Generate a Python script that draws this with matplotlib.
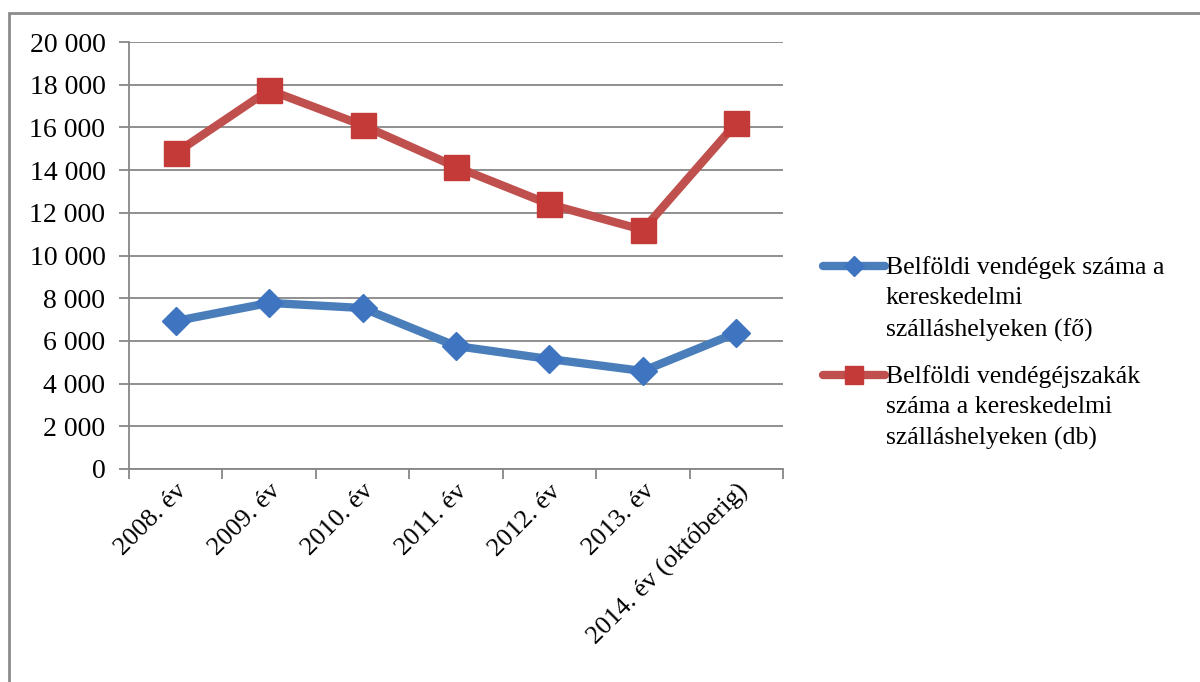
import matplotlib.pyplot as plt
from matplotlib.patches import Rectangle
from matplotlib.ticker import FuncFormatter, MultipleLocator
from matplotlib.legend_handler import HandlerLine2D

categories = ["2008. év", "2009. év", "2010. év", "2011. év", "2012. év",
              "2013. év", "2014. év (októberig)"]
vendegek = [6930, 7780, 7540, 5760, 5150, 4590, 6370]
ejszakak = [14800, 17750, 16100, 14150, 12400, 11200, 16200]

label_vendegek = "Belföldi vendégek száma a\nkereskedelmi\nszálláshelyeken (fő)"
label_ejszakak = "Belföldi vendégéjszakák\nszáma a kereskedelmi\nszálláshelyeken (db)"

plt.rcParams['font.family'] = ['Liberation Serif', 'DejaVu Serif']

LEG_FS = 18.5
LEG_LS = 1.5


class TopLineHandler(HandlerLine2D):
    # put the handle next to the first text line instead of the middle one
    def create_artists(self, legend, orig_handle, xdescent, ydescent,
                       width, height, fontsize, trans):
        artists = super().create_artists(legend, orig_handle, xdescent,
                                         ydescent, width, height, fontsize,
                                         trans)
        shift = fontsize * LEG_LS * 0.83
        for a in artists:
            a.set_ydata([y + shift for y in a.get_ydata()])
        return artists


fig = plt.figure(figsize=(12, 6.82), dpi=100)
W, H = 1200, 682

# outer frame (only top and left edges visible)
fig.patches.append(Rectangle((9 / W, -0.1), 1.2, 1.1 - 13 / H,
                             transform=fig.transFigure, fill=False,
                             edgecolor='#8c8c8c', linewidth=2))

ax = fig.add_axes([129 / W, 1 - 469 / H, (783 - 129) / W, (469 - 42) / H])

x = range(len(categories))
l1, = ax.plot(x, vendegek, color='#4A7EBB', linewidth=6, marker='D',
              markersize=14, markerfacecolor='#3F74C0',
              markeredgecolor='#3F74C0', label=label_vendegek,
              solid_capstyle='round')
l2, = ax.plot(x, ejszakak, color='#C0504D', linewidth=6, marker='s',
              markersize=18, markerfacecolor='#C33A38',
              markeredgecolor='#C33A38', label=label_ejszakak,
              solid_capstyle='round')

ax.set_xlim(-0.5, len(categories) - 0.5)
ax.set_ylim(0, 20000)
ax.yaxis.set_major_locator(MultipleLocator(2000))
ax.yaxis.set_major_formatter(FuncFormatter(
    lambda v, p: f"{int(v):,}".replace(",", " ")))
ax.grid(axis='y', color='#878787', linewidth=1.3)
ax.set_axisbelow(True)

ax.set_xticks([i - 0.5 for i in range(len(categories) + 1)], minor=False)
ax.set_xticklabels([])
ax.set_xticks(list(x), minor=True)
ax.set_xticklabels(categories, minor=True, rotation=45, ha='right',
                   rotation_mode='anchor', fontsize=19)
ax.tick_params(axis='x', which='minor', length=0, pad=8)
ax.tick_params(axis='x', which='major', length=7, color='#878787', width=1.3)
ax.tick_params(axis='y', length=7, color='#878787', width=1.3,
               labelsize=20, pad=10)

for side in ['top', 'right']:
    ax.spines[side].set_visible(False)
for side in ['left', 'bottom']:
    ax.spines[side].set_color('#878787')
    ax.spines[side].set_linewidth(1.3)

leg = ax.legend(loc='upper left', bbox_to_anchor=(810 / W, 1 - 243 / H),
                bbox_transform=fig.transFigure, frameon=False,
                fontsize=LEG_FS, handlelength=2.4, handletextpad=0.05,
                labelspacing=0.9, markerscale=0.7, borderpad=0,
                handler_map={l1: TopLineHandler(), l2: TopLineHandler()})
for t in leg.get_texts():
    t.set_linespacing(LEG_LS)

fig.savefig("out.png", dpi=100)
